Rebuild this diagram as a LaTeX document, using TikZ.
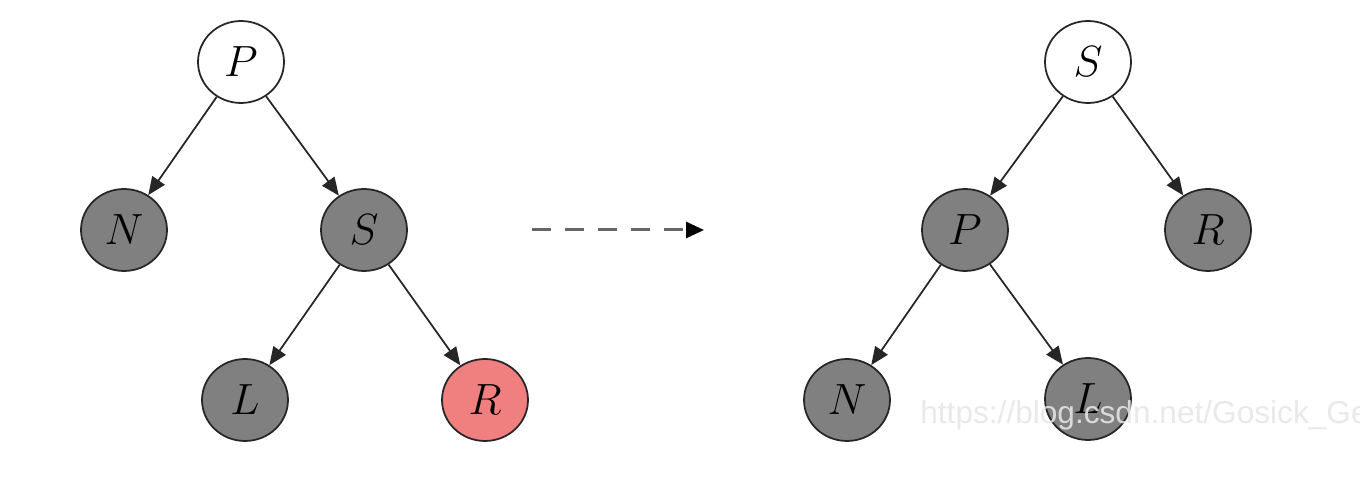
\documentclass[tikz,border=0pt]{standalone}
\usepackage{fontspec}
\newfontfamily\wmfont{Liberation Sans}
\usetikzlibrary{arrows.meta,shapes.geometric}
\definecolor{nodegray}{RGB}{128,128,128}
\definecolor{nodered}{RGB}{240,128,128}
\definecolor{wm}{RGB}{230,230,230}
\begin{document}
\begin{tikzpicture}[x=0.02cm,y=-0.02cm,
  tnode/.style={ellipse,draw=black!85,line width=1pt,minimum width=1.72cm,minimum height=1.64cm,inner sep=0pt,font=\fontsize{33}{38}\selectfont},
  white node/.style={tnode,fill=white},
  black node/.style={tnode,fill=nodegray},
  red node/.style={tnode,fill=nodered},
  edge arrow/.style={draw=black!85,line width=1pt,-{Triangle[length=0.36cm,width=0.3cm]}},
  trans arrow/.style={draw=black!60,line width=1.7pt,dash pattern=on 0.38cm off 0.28cm,-{Triangle[length=0.36cm,width=0.32cm,color=black,fill=black]}},
  watermark/.style={text=wm,opacity=0.88,font=\wmfont\fontsize{18}{22}\selectfont,anchor=base west,inner sep=0pt}]
\useasboundingbox (0,0) rectangle (1360,502);
% left tree
\node[white node] (P1) at (241,62) {$P$};
\node[black node] (N1) at (124,230) {$N$};
\node[black node] (S1) at (364,230) {$S$};
\node[black node] (L1) at (245,400) {$L$};
\node[red node] (R1) at (485,400) {$R$};
\draw[edge arrow] (P1) -- (N1);
\draw[edge arrow] (P1) -- (S1);
\draw[edge arrow] (S1) -- (L1);
\draw[edge arrow] (S1) -- (R1);
% transformation arrow
\coordinate (A0) at (532,230);
\coordinate (A1) at (704,230);
\draw[trans arrow] (A0) -- (A1);
% right tree
\node[white node] (S2) at (1088,62) {$S$};
\node[black node] (P2) at (965,230) {$P$};
\node[black node] (R2) at (1208,230) {$R$};
\node[black node] (N2) at (847,400) {$N$};
\node[black node] (L2) at (1088,399) {$L$};
\draw[edge arrow] (S2) -- (P2);
\draw[edge arrow] (S2) -- (R2);
\draw[edge arrow] (P2) -- (N2);
\draw[edge arrow] (P2) -- (L2);
% watermark
\begin{scope}
\clip (0,0) rectangle (1360,502);
\node[watermark] (wm) at (920,424) {https://blog.csdn.net/Gosick\_Ge};
\end{scope}
\end{tikzpicture}
\end{document}
